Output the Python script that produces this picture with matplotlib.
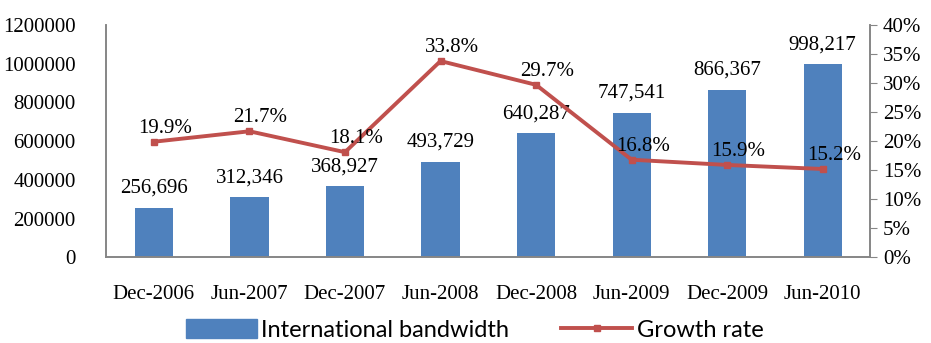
import numpy as np
import matplotlib.pyplot as plt
from matplotlib.ticker import FuncFormatter

# international bandwidth (Mbps) and half-year growth rate
periods = ['Dec-2006', 'Jun-2007', 'Dec-2007', 'Jun-2008',
           'Dec-2008', 'Jun-2009', 'Dec-2009', 'Jun-2010']
bandwidth = [256696, 312346, 368927, 493729, 640287, 747541, 866367, 998217]
growth = [19.9, 21.7, 18.1, 33.8, 29.7, 16.8, 15.9, 15.2]

bar_color = '#4F81BD'
line_color = '#C0504D'
axis_color = '#868686'
serif = 'Liberation Serif'
fs = 15

fig = plt.figure(figsize=(9.31, 3.43), dpi=100)
ax = fig.add_axes([0.114, 0.25, 0.821, 0.677])
x = np.arange(len(periods))

ax.bar(x, bandwidth, width=0.4, color=bar_color, zorder=2)
ax.set_xlim(-0.5, len(periods) - 0.5)
ax.set_ylim(0, 1200000)
ax.set_yticks(np.arange(0, 1200001, 200000))
ax.yaxis.set_major_formatter(FuncFormatter(lambda v, p: f'{v:.0f}'))
ax.set_xticks(x)
ax.set_xticklabels(periods)
for v, b in zip(x, bandwidth):
    ax.annotate(f'{b:,}', (v, b), xytext=(0, 7), textcoords='offset points',
                ha='center', va='bottom', fontsize=fs, family=serif)

ax2 = ax.twinx()
ax2.plot(x, growth, color=line_color, lw=2.8, marker='s', ms=5, zorder=3)
ax2.set_ylim(0, 40)
ax2.set_yticks(np.arange(0, 41, 5))
ax2.yaxis.set_major_formatter(FuncFormatter(lambda v, p: f'{v:.0f}%'))
for v, g in zip(x, growth):
    ax2.annotate(f'{g}%', (v, g), xytext=(8, 3), textcoords='offset points',
                 ha='center', va='bottom', fontsize=fs, family=serif)

for a in (ax, ax2):
    a.spines['top'].set_visible(False)
    for s in ('left', 'right', 'bottom'):
        a.spines[s].set_color(axis_color)
        a.spines[s].set_linewidth(1.2)
    for lab in a.get_xticklabels() + a.get_yticklabels():
        lab.set_fontfamily(serif)
        lab.set_fontsize(fs)
ax.tick_params(axis='x', length=0, pad=20)
ax.tick_params(axis='y', length=0, pad=22)
ax2.tick_params(axis='y', length=5, color=axis_color, direction='out', pad=4)

# legend under the axes
h1 = plt.Rectangle((0, 0), 1, 1, color=bar_color)
h2 = plt.Line2D([], [], color=line_color, lw=2.8, marker='s', ms=4)
fig.legend([h1, h2], ['International bandwidth', 'Growth rate'],
           loc='lower center', bbox_to_anchor=(0.51, -0.055), ncol=2,
           frameon=False, handlelength=3.0, handleheight=0.9,
           columnspacing=2.2, handletextpad=0.2,
           prop={'family': 'Lato', 'size': 17})

fig.savefig('out.png', dpi=100)
